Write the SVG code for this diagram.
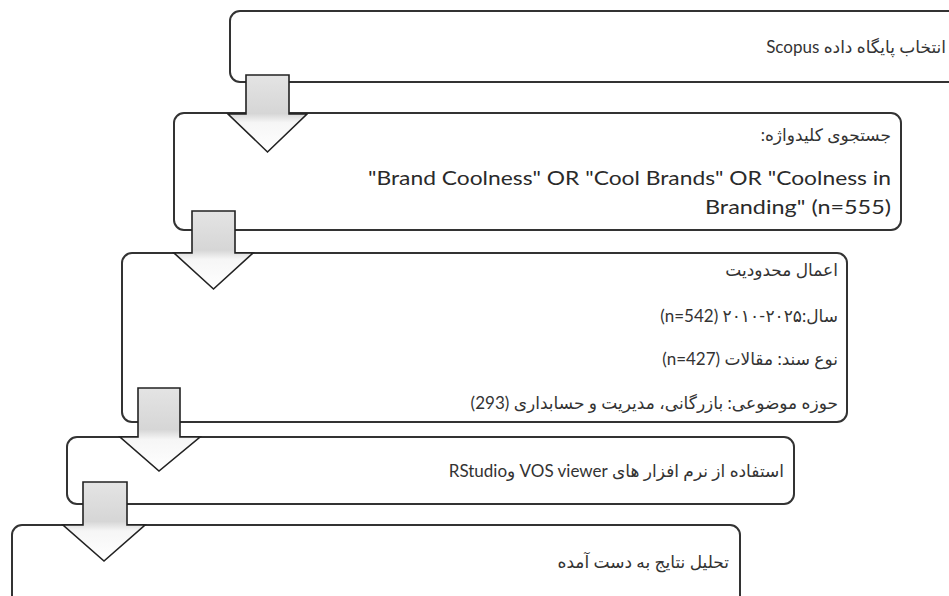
<svg xmlns="http://www.w3.org/2000/svg" width="949" height="596" viewBox="0 0 949 596">
<style>
.box{fill:#ffffff;stroke:#333333;stroke-width:2}
.arr{fill:url(#ag);stroke:#222222;stroke-width:1.6;stroke-linejoin:miter}
.fa{font-family:Lato,"DejaVu Sans",sans-serif;font-size:17px;fill:#333333}
.en{font-family:Lato,"Liberation Sans",sans-serif;font-size:19px;fill:#2a2a2a}
</style>
<defs>
<linearGradient id="ag" x1="0" y1="0" x2="0" y2="1">
<stop offset="0" stop-color="#e4e4e4"/>
<stop offset="0.5" stop-color="#d6d6d6"/>
<stop offset="0.62" stop-color="#f6f6f6"/>
<stop offset="1" stop-color="#ffffff"/>
</linearGradient>
</defs>
<g id="node1">
<rect class="box" x="230" y="11" width="740" height="71" rx="10"/>
<text class="fa" x="946" y="53" direction="rtl" text-anchor="start">انتخاب پایگاه داده Scopus</text>
</g>
<g id="node2">
<rect class="box" x="174" y="113" width="727" height="117" rx="10"/>
<text class="fa" x="891" y="141" direction="rtl" text-anchor="start">جستجوی کلیدواژه:</text>
<text class="en" x="891" y="185" text-anchor="end" textLength="523" lengthAdjust="spacingAndGlyphs">"Brand Coolness" OR "Cool Brands" OR "Coolness in</text>
<text class="en" x="891" y="214" text-anchor="end" textLength="186" lengthAdjust="spacingAndGlyphs">Branding" (n=555)</text>
</g>
<g id="node3">
<rect class="box" x="122" y="253" width="725" height="169" rx="10"/>
<text class="fa" x="838" y="276" direction="rtl" text-anchor="start">اعمال محدودیت</text>
<text class="fa" x="838" y="322" direction="rtl" text-anchor="start">سال:&#x202A;۲۰۱۰-۲۰۲۵&#x202C;&#x200F; &#x202A;(n=542)&#x202C;</text>
<text class="fa" x="838" y="365" direction="rtl" text-anchor="start">نوع سند: مقالات &#x202A;(n=427)&#x202C;</text>
<text class="fa" x="838" y="409" direction="rtl" text-anchor="start">حوزه موضوعی: بازرگانی، مدیریت و حسابداری (293)</text>
</g>
<g id="node4">
<rect class="box" x="67" y="437" width="727" height="67" rx="10"/>
<text class="fa" x="784" y="477" direction="rtl" text-anchor="start">استفاده از نرم افزار های VOS viewer وRStudio</text>
</g>
<g id="node5">
<rect class="box" x="12" y="525" width="728" height="90" rx="10"/>
<text class="fa" x="729" y="568" direction="rtl" text-anchor="start">تحلیل نتایج به دست آمده</text>
</g>
<g id="connectors">
<path class="arr" d="M246,75 H289 V114 H307 L267.5,152 L228,114 H246 Z"/>
<path class="arr" d="M192,211 H235 V253 H253 L213.5,289 L174,253 H192 Z"/>
<path class="arr" d="M138,388 H180 V437 H200 L159,471 L120,437 H138 Z"/>
<path class="arr" d="M83,482 H127 V525 H145 L104,561 L63,525 H83 Z"/>
</g>
</svg>
